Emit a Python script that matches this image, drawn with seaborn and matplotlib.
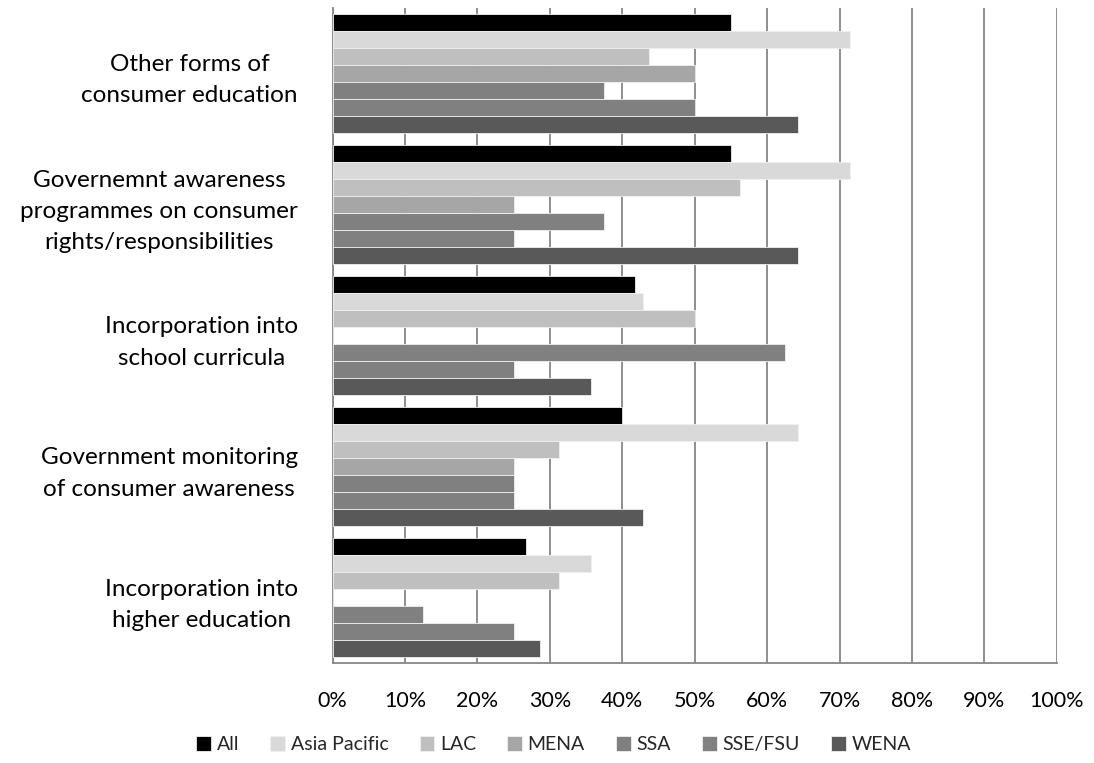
import pandas as pd
import matplotlib
matplotlib.use("Agg")
import matplotlib.pyplot as plt
import seaborn as sb
from matplotlib.ticker import PercentFormatter

# Categories, top to bottom
measures = ["Other forms of\nconsumer education",
            "Governemnt awareness\nprogrammes on consumer\nrights/responsibilities",
            "Incorporation into\nschool curricula",
            "Government monitoring\nof consumer awareness",
            "Incorporation into\nhigher education"]

regions = ["All", "Asia Pacific", "LAC", "MENA", "SSA", "SSE/FSU", "WENA"]

# Share of countries (%) per region, one list per measure
other_forms = [55.0, 71.4, 43.75, 50.0, 37.5, 50.0, 64.3]
gov_awareness = [55.0, 71.4, 56.25, 25.0, 37.5, 25.0, 64.3]
school_curricula = [41.7, 42.9, 50.0, 0.0, 62.5, 25.0, 35.7]
gov_monitoring = [40.0, 64.3, 31.25, 25.0, 25.0, 25.0, 42.9]
higher_education = [26.7, 35.7, 31.25, 0.0, 12.5, 25.0, 28.6]

colours = ["#000000", "#d9d9d9", "#bfbfbf", "#a6a6a6", "#808080", "#808080", "#595959"]

# build a long table for seaborn
rows = []
for measure, vals in zip(measures, [other_forms, gov_awareness, school_curricula,
                                    gov_monitoring, higher_education]):
    for region, v in zip(regions, vals):
        rows.append({"measure": measure, "region": region, "share": v})
data = pd.DataFrame(rows)

sb.set_style("white")
plt.rcParams["font.family"] = ["Lato", "DejaVu Sans"]

fig = plt.figure(figsize=(10.94, 7.63), dpi=100)
ax = fig.add_axes([0.304, 0.131, 0.662, 0.859])

sb.barplot(data=data, y="measure", x="share", hue="region", order=measures,
           hue_order=regions, palette=colours, orient="h", width=0.91,
           edgecolor="#f0f0f0", linewidth=0.6, saturation=1, errorbar=None,
           ax=ax, zorder=3)

ax.set_xlim(0, 100)
ax.set_xticks(range(0, 101, 10))
ax.xaxis.set_major_formatter(PercentFormatter(decimals=0))
ax.grid(axis="x", color="#868686", linewidth=1.3, zorder=0)
ax.set_axisbelow(True)
ax.set_xlabel("")
ax.set_ylabel("")

for side in ["top", "right"]:
    ax.spines[side].set_visible(False)
ax.spines["left"].set_color("#868686")
ax.spines["left"].set_linewidth(1.3)
ax.spines["bottom"].set_color("#868686")
ax.spines["bottom"].set_linewidth(1.3)

ax.tick_params(axis="x", length=0, pad=20, labelsize=15.5, colors="black")
ax.tick_params(axis="y", length=0, pad=25, labelsize=17.5, colors="black")
for lab in ax.get_yticklabels():
    lab.set_multialignment("center")
    lab.set_linespacing(1.6)

ax.legend_.remove()
handles, labels = ax.get_legend_handles_labels()
fig.legend(handles, labels, loc="center", bbox_to_anchor=(0.506, 0.024),
           ncol=7, frameon=False, fontsize=14, handlelength=0.75,
           handleheight=0.75, handletextpad=0.3, columnspacing=1.6)

fig.savefig("out.png", dpi=100)
